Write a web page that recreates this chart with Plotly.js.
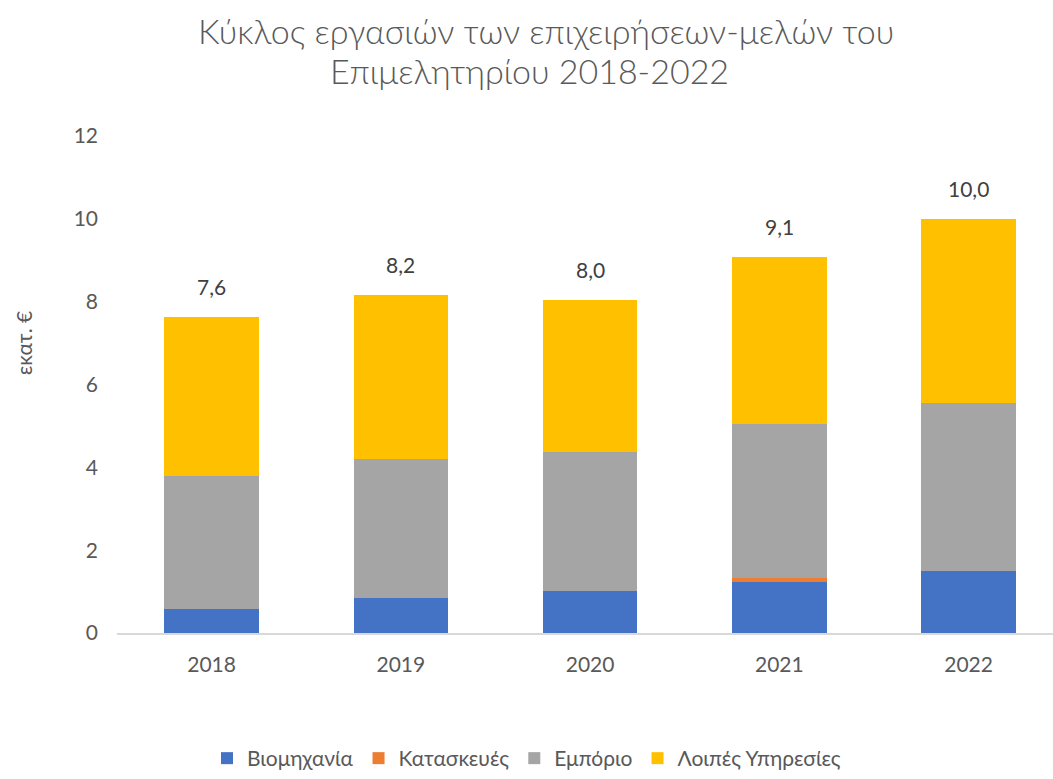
<!DOCTYPE html>
<html>
<head>
<meta charset="utf-8">
<script src="https://cdn.plot.ly/plotly-3.0.1.min.js"></script>
<style>html,body{margin:0;padding:0;background:#fff;}#chart{width:1053px;height:779px;}</style>
</head>
<body>
<div id="chart"></div>
<script>
const years = ['2018', '2019', '2020', '2021', '2022'];
const industry = [0.57, 0.84, 1.01, 1.23, 1.49];
const construction = [0.00, 0.00, 0.00, 0.11, 0.01];
const trade = [3.21, 3.37, 3.35, 3.70, 4.05];
const otherServices = [3.85, 3.96, 3.68, 4.03, 4.45];
const seriesNames = ['Βιομηχανία', 'Κατασκευές', 'Εμπόριο', 'Λοιπές Υπηρεσίες'];
const seriesColors = ['#4472C4', '#ED7D31', '#A5A5A5', '#FFC000'];
const titleLines = ['Κύκλος εργασιών των επιχειρήσεων-μελών του', 'Επιμελητηρίου 2018-2022'];
const yTitle = 'εκατ. €';

const FONT = 'Lato, "Noto Sans", sans-serif';
const series = [industry, construction, trade, otherServices];
const traces = series.map((vals, i) => ({
  type: 'bar', x: years, y: vals, name: seriesNames[i],
  marker: {color: seriesColors[i], line: {width: 0}},
  hoverinfo: 'x+y+name'
}));
const totals = years.map((_, j) => series.reduce((s, arr) => s + arr[j], 0));
const annotations = years.map((yr, j) => ({
  x: j, y: totals[j], xref: 'x', yref: 'y',
  text: totals[j].toFixed(1).replace('.', ','),
  showarrow: false, yanchor: 'bottom', yshift: 16,
  font: {family: FONT, size: 21, color: '#404040'}
}));
annotations.push({
  xref: 'paper', yref: 'paper', x: -0.1, y: 0.584, xanchor: 'center', yanchor: 'middle',
  text: yTitle, textangle: -90, showarrow: false,
  font: {family: FONT, size: 21, color: '#595959'}
});
annotations.push({
  xref: 'paper', yref: 'paper', x: 0.458, y: 1.213, xanchor: 'center', yanchor: 'middle',
  text: titleLines[0], showarrow: false,
  font: {family: FONT, size: 34, color: '#595959', weight: 300}
});
annotations.push({
  xref: 'paper', yref: 'paper', x: 0.441, y: 1.132, xanchor: 'center', yanchor: 'middle',
  text: titleLines[1], showarrow: false,
  font: {family: FONT, size: 34, color: '#595959', weight: 300}
});
const layout = {
  width: 1053, height: 779,
  margin: {l: 117, r: 0, t: 136, b: 146},
  paper_bgcolor: '#fff', plot_bgcolor: '#fff',
  barmode: 'stack', bargap: 0.5,
  font: {family: FONT, color: '#595959'},
  xaxis: {type: 'category', range: [-0.5, 4.446], showgrid: false, showline: true,
          linecolor: '#D9D9D9', linewidth: 1.5, ticks: '', ticklabelstandoff: 12,
          tickfont: {family: FONT, size: 21, color: '#595959'}, fixedrange: true},
  yaxis: {range: [0, 12], dtick: 2, tick0: 0, showgrid: false, zeroline: false, showline: false,
          ticks: '', ticklabelstandoff: 18,
          tickfont: {family: FONT, size: 21, color: '#595959'}, fixedrange: true},
  showlegend: true,
  legend: {orientation: 'h', xref: 'container', yref: 'container', x: 0.5, xanchor: 'center',
           y: 0, yanchor: 'bottom', traceorder: 'normal',
           font: {family: FONT, size: 21, color: '#595959'}, itemwidth: 30},
  annotations: annotations
};
Plotly.newPlot('chart', traces, layout, {displayModeBar: false, staticPlot: true});
</script>
</body>
</html>
